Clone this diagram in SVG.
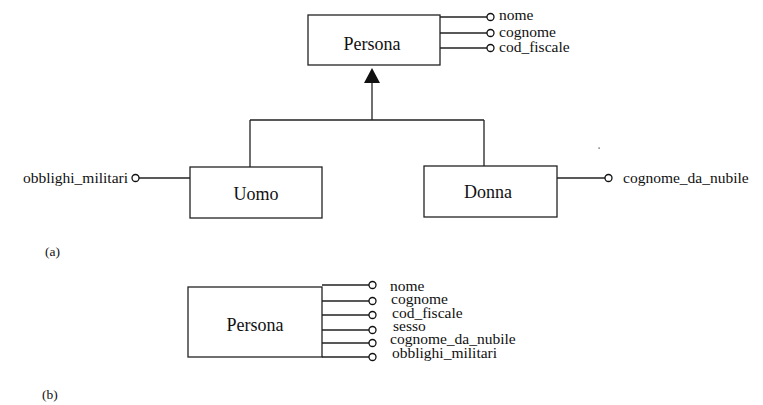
<svg xmlns="http://www.w3.org/2000/svg" width="763" height="405" viewBox="0 0 763 405">
  <style>
    .box { fill: #fff; stroke: #222; stroke-width: 1.3; }
    .ln { fill: none; stroke: #222; stroke-width: 1.3; }
    .pin { fill: #fff; stroke: #111; stroke-width: 1.3; }
    .name { font-family: "Liberation Serif", "Times New Roman", serif; font-size: 18px; fill: #111; text-anchor: middle; }
    .attr { font-family: "Liberation Serif", "Times New Roman", serif; font-size: 15.5px; fill: #111; }
    .cap { font-family: "Liberation Serif", "Times New Roman", serif; font-size: 13.5px; fill: #111; }
  </style>
  <rect width="763" height="405" fill="#fff"/>

  <!-- connectors: generalization hierarchy and attribute stems -->
  <g id="connectors">
    <path class="ln" d="M372 83 V120 M250 120 H484 M250 120 V167 M484 120 V166"/>
    <polygon points="372,68 364,83 380,83" fill="#111"/>
    <!-- attributes of Persona (a) -->
    <path class="ln" d="M440 17 H487 M440 33 H487 M440 48 H487"/>
    <!-- attribute of Uomo -->
    <path class="ln" d="M139 178 H190"/>
    <!-- attribute of Donna -->
    <path class="ln" d="M557 178 H605"/>
    <!-- attributes of Persona (b) -->
    <path class="ln" d="M322 285 H369 M322 301 H369 M322 315 H369 M322 330 H369 M322 343 H369 M322 357 H369"/>
  </g>

  <!-- (a) hierarchy -->
  <g id="persona-a">
    <rect class="box" x="308" y="15" width="132" height="50"/>
    <text class="name" x="372" y="50">Persona</text>
  </g>
  <g id="attr-nome-a">
    <circle class="pin" cx="490.5" cy="17" r="3.5"/>
    <text class="attr" x="499" y="20">nome</text>
  </g>
  <g id="attr-cognome-a">
    <circle class="pin" cx="490.5" cy="33" r="3.5"/>
    <text class="attr" x="499" y="37">cognome</text>
  </g>
  <g id="attr-cod-fiscale-a">
    <circle class="pin" cx="490.5" cy="48" r="3.5"/>
    <text class="attr" x="499" y="52">cod_fiscale</text>
  </g>

  <g id="uomo">
    <rect class="box" x="190" y="167" width="132" height="51"/>
    <text class="name" x="256" y="200">Uomo</text>
  </g>
  <g id="attr-obblighi-militari">
    <circle class="pin" cx="135.5" cy="178" r="3.5"/>
    <text class="attr" x="128" y="183" text-anchor="end">obblighi_militari</text>
  </g>

  <g id="donna">
    <rect class="box" x="424" y="166" width="133" height="51"/>
    <text class="name" x="488" y="198">Donna</text>
  </g>
  <g id="attr-cognome-da-nubile">
    <circle class="pin" cx="608.5" cy="178" r="3.5"/>
    <text class="attr" x="623" y="183">cognome_da_nubile</text>
  </g>
  <rect x="598.5" y="147.5" width="1.2" height="1.2" fill="#333"/>

  <text class="cap" x="45" y="256">(a)</text>

  <!-- (b) flattened entity -->
  <g id="persona-b">
    <rect class="box" x="188" y="287" width="134" height="70"/>
    <text class="name" x="255" y="331">Persona</text>
  </g>
  <g id="attrs-b">
    <circle class="pin" cx="372.5" cy="285" r="3.5"/>
    <circle class="pin" cx="372.5" cy="301" r="3.5"/>
    <circle class="pin" cx="372.5" cy="315" r="3.5"/>
    <circle class="pin" cx="372.5" cy="330" r="3.5"/>
    <circle class="pin" cx="372.5" cy="343" r="3.5"/>
    <circle class="pin" cx="372.5" cy="357" r="3.5"/>
    <text class="attr" x="390" y="291">nome</text>
    <text class="attr" x="391" y="304">cognome</text>
    <text class="attr" x="392" y="318">cod_fiscale</text>
    <text class="attr" x="393" y="331">sesso</text>
    <text class="attr" x="390" y="344">cognome_da_nubile</text>
    <text class="attr" x="392" y="358">obblighi_militari</text>
  </g>

  <text class="cap" x="42" y="399">(b)</text>
</svg>
